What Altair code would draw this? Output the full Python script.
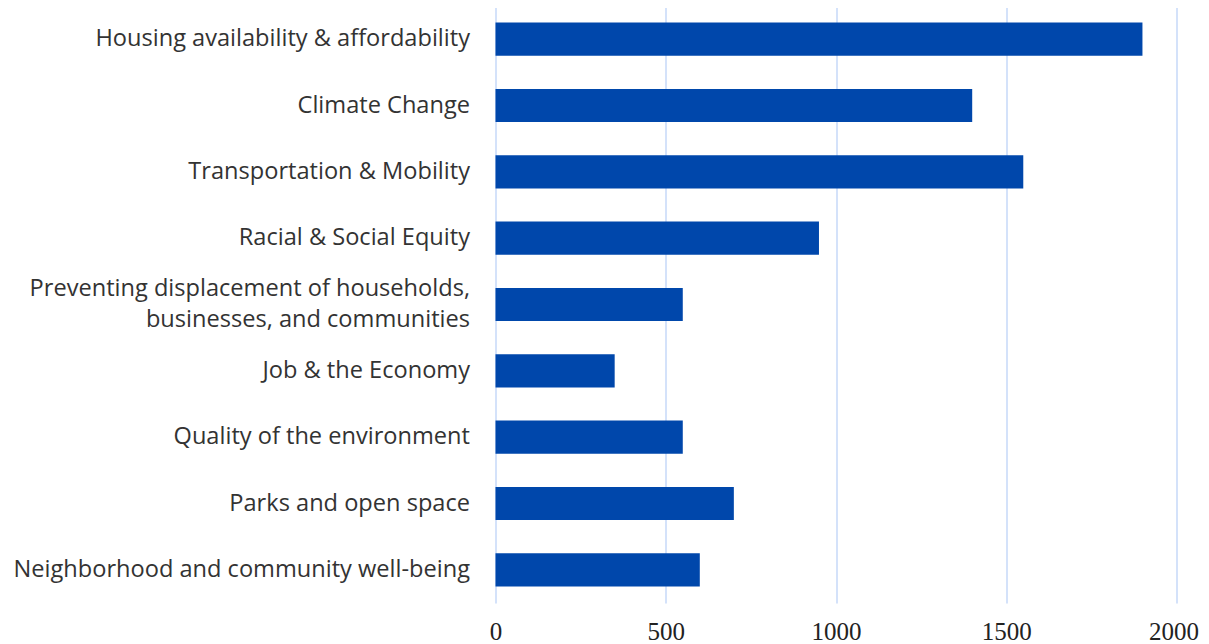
import altair as alt
import pandas as pd

categories = [
    "Housing availability & affordability",
    "Climate Change",
    "Transportation & Mobility",
    "Racial & Social Equity",
    "Preventing displacement of households,|businesses, and communities",
    "Job & the Economy",
    "Quality of the environment",
    "Parks and open space",
    "Neighborhood and community well-being",
]
values = [1900, 1400, 1550, 950, 550, 350, 550, 700, 600]
x_ticks = [0, 500, 1000, 1500, 2000]

df = pd.DataFrame({"category": categories, "value": values})

chart = (
    alt.Chart(df)
    .mark_bar(color="#0047AB")
    .encode(
        x=alt.X(
            "value:Q",
            scale=alt.Scale(domain=[0, 2000], nice=False),
            axis=alt.Axis(
                values=x_ticks,
                format="d",
                title=None,
                grid=True,
                gridColor="#D4E2FA",
                gridWidth=2,
                domain=False,
                ticks=False,
                labelFlush=False,
                labelOverlap=False,
                labelFont="Liberation Serif",
                labelFontSize=25,
                labelColor="#222222",
                labelPadding=16,
                labelOffset={
                    "condition": {"test": "datum.value >= 2000", "value": -3},
                    "value": 0,
                },
            ),
        ),
        y=alt.Y(
            "category:N",
            sort=categories,
            scale=alt.Scale(paddingInner=0.5, paddingOuter=0.25),
            axis=alt.Axis(
                title=None,
                domain=False,
                ticks=False,
                grid=False,
                labelFont="Open Sans",
                labelFontSize=23.6,
                labelColor="#333333",
                labelPadding=26,
                labelLimit=600,
                labelExpr="split(datum.label, '|')",
                labelLineHeight=31,
                labelOffset={
                    "condition": {"test": "indexof(datum.value, '|') >= 0", "value": -15.5},
                    "value": 0,
                },
            ),
        ),
    )
    .properties(
        width=681,
        height=597,
        autosize=alt.AutoSizeParams(type="none"),
        padding={"left": 487.5, "top": -2, "right": 24, "bottom": 50},
    )
    .configure_view(stroke=None)
)

chart.save("out.html", embed_options={"renderer": "svg", "actions": False})
